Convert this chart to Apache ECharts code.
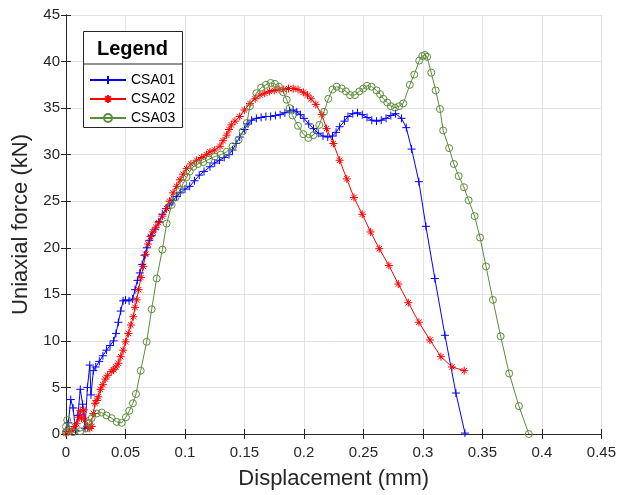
<!DOCTYPE html>
<html>
<head>
<meta charset="utf-8">
<script src="https://cdn.jsdelivr.net/npm/echarts@6/dist/echarts.min.js"></script>
<style>html,body{margin:0;padding:0;background:#fff}#c{width:619px;height:495px}</style>
</head>
<body>
<div id="c"></div>
<script>
var xTicks = [0, 0.05, 0.1, 0.15, 0.2, 0.25, 0.3, 0.35, 0.4, 0.45];
var yTicks = [0, 5, 10, 15, 20, 25, 30, 35, 40, 45];
var seriesNames = ['CSA01', 'CSA02', 'CSA03'];

var csa01 = [[0,0.3],[0.002,1.2],[0.004,3.7],[0.006,2.8],[0.008,0.4],[0.010,2.0],[0.012,4.8],[0.014,3.2],[0.016,0.6],[0.018,5.0],[0.020,7.4],[0.021,4.2],[0.023,6.8],[0.025,7.2],[0.028,7.8],[0.031,8.4],[0.034,9.0],[0.037,9.5],[0.040,10.0],[0.042,10.8],[0.044,12.0],[0.046,13.2],[0.048,14.3],[0.050,14.4],[0.053,14.3],[0.056,14.5],[0.058,15.5],[0.060,16.5],[0.062,17.3],[0.064,18.2],[0.066,19.2],[0.068,20.0],[0.070,20.8],[0.072,21.3],[0.075,22.0],[0.078,22.8],[0.081,23.6],[0.084,24.2],[0.087,24.6],[0.090,25.1],[0.093,25.5],[0.096,25.9],[0.100,26.3],[0.104,26.6],[0.108,27.2],[0.112,27.8],[0.116,28.2],[0.121,28.7],[0.125,29.1],[0.129,29.4],[0.133,29.7],[0.137,30.0],[0.140,30.5],[0.143,31.2],[0.146,31.9],[0.150,32.7],[0.153,33.3],[0.156,33.7],[0.160,33.9],[0.164,34.0],[0.168,34.1],[0.172,34.1],[0.176,34.2],[0.180,34.3],[0.184,34.5],[0.188,34.7],[0.191,34.8],[0.194,34.6],[0.197,34.3],[0.200,33.9],[0.204,33.3],[0.208,32.8],[0.212,32.3],[0.216,32.0],[0.220,31.9],[0.224,32.0],[0.227,32.4],[0.230,33.0],[0.234,33.6],[0.237,34.1],[0.241,34.4],[0.245,34.5],[0.249,34.3],[0.253,34.0],[0.257,33.7],[0.261,33.6],[0.265,33.7],[0.269,33.9],[0.273,34.2],[0.277,34.4],[0.282,33.9],[0.286,32.9],[0.2905,30.6],[0.2966,27.1],[0.3025,22.3],[0.310,16.7],[0.3185,10.6],[0.3277,4.4],[0.3353,0.1]];

var csa02 = [[0,0.1],[0.003,0.3],[0.005,0.4],[0.007,0.8],[0.009,1.1],[0.011,1.8],[0.012,2.5],[0.013,1.7],[0.015,2.6],[0.016,1.5],[0.018,0.8],[0.020,0.6],[0.0216,0.8],[0.023,2.2],[0.0244,3.3],[0.026,3.6],[0.0272,4.0],[0.029,4.8],[0.031,5.3],[0.033,5.9],[0.035,6.3],[0.038,6.7],[0.040,6.9],[0.042,7.2],[0.044,7.6],[0.046,8.3],[0.048,9.0],[0.050,9.9],[0.0524,10.8],[0.0545,11.7],[0.0566,12.6],[0.058,13.6],[0.0594,14.4],[0.061,15.5],[0.063,16.8],[0.065,18.0],[0.067,19.3],[0.069,20.4],[0.071,21.2],[0.073,21.7],[0.0755,22.2],[0.078,22.7],[0.081,23.4],[0.0846,24.2],[0.087,25.0],[0.090,25.9],[0.093,26.6],[0.0958,27.3],[0.0985,27.9],[0.1014,28.5],[0.105,29.0],[0.1098,29.4],[0.114,29.7],[0.118,30.0],[0.121,30.3],[0.125,30.5],[0.1294,30.9],[0.132,31.5],[0.135,32.1],[0.137,32.7],[0.139,33.2],[0.142,33.6],[0.146,34.1],[0.150,34.8],[0.1546,35.5],[0.159,36.0],[0.163,36.4],[0.167,36.6],[0.171,36.8],[0.175,36.9],[0.179,37.0],[0.183,37.0],[0.187,37.1],[0.191,37.1],[0.195,37.0],[0.1995,36.7],[0.203,36.4],[0.206,36.0],[0.210,35.4],[0.215,34.3],[0.219,32.8],[0.2247,31.2],[0.230,29.4],[0.236,27.4],[0.242,25.4],[0.249,23.6],[0.256,21.7],[0.2633,19.9],[0.2714,18.1],[0.2793,16.1],[0.2877,14.1],[0.2966,12.0],[0.3059,10.1],[0.3151,8.3],[0.3244,7.2],[0.3347,6.8]];

var csa03 = [[0,0.2],[0,0.8],[0.001,1.5],[0.002,0.5],[0.006,0.2],[0.012,0.3],[0.017,0.6],[0.0195,1.2],[0.0216,1.7],[0.0258,2.2],[0.030,2.3],[0.034,2.0],[0.0384,1.7],[0.0426,1.3],[0.0468,1.2],[0.0504,1.8],[0.0532,2.5],[0.0562,3.3],[0.0588,4.3],[0.0628,6.8],[0.0678,9.9],[0.072,13.4],[0.0762,16.7],[0.081,19.8],[0.0846,22.6],[0.0888,24.6],[0.092,25.4],[0.0958,26.2],[0.0985,26.9],[0.1014,27.6],[0.104,28.2],[0.107,28.7],[0.111,29.0],[0.1154,29.2],[0.120,29.5],[0.125,29.8],[0.130,30.0],[0.135,30.3],[0.140,30.9],[0.145,31.6],[0.1485,32.5],[0.152,33.4],[0.1546,35.2],[0.160,36.6],[0.164,37.2],[0.168,37.5],[0.172,37.7],[0.1756,37.6],[0.1790,37.3],[0.1826,36.7],[0.1855,35.9],[0.188,35.0],[0.1905,34.2],[0.195,33.1],[0.1995,32.2],[0.2037,31.8],[0.2079,32.1],[0.2129,33.2],[0.2168,34.6],[0.2205,36.0],[0.224,37.0],[0.2275,37.3],[0.2317,37.1],[0.2353,36.8],[0.2387,36.4],[0.2429,36.4],[0.2465,36.8],[0.2498,37.1],[0.253,37.4],[0.2569,37.3],[0.261,36.9],[0.264,36.5],[0.2667,36.0],[0.270,35.6],[0.273,35.2],[0.2765,35.05],[0.280,35.2],[0.2834,35.5],[0.289,37.5],[0.2927,38.6],[0.2969,40.1],[0.2995,40.6],[0.3017,40.7],[0.3035,40.5],[0.307,38.8],[0.3107,36.9],[0.3143,34.9],[0.317,32.6],[0.322,30.7],[0.326,29.0],[0.330,27.7],[0.3345,26.5],[0.3384,25.1],[0.3434,23.4],[0.348,21.1],[0.353,18.0],[0.3588,14.4],[0.3653,10.5],[0.3725,6.5],[0.3807,3.0],[0.389,0]];

var FONT = 'Liberation Sans, Arial, Helvetica, sans-serif';
var AX = '#262626';
var PLUS = 'path://M5,0L5,10M0,5L10,5';
var STAR = 'path://M5,0L5,10M0,5L10,5M1.6,1.6L8.4,8.4M1.6,8.4L8.4,1.6';

function mk(name, data, color, symbol, size) {
  return {
    name: name, type: 'line', data: data, xAxisIndex: 0, yAxisIndex: 0,
    symbol: symbol, symbolSize: size, showSymbol: true, showAllSymbol: true,
    animation: false, clip: true,
    lineStyle: { color: color, width: 1 },
    itemStyle: { color: symbol === 'circle' ? 'rgba(0,0,0,0)' : color, borderColor: color, borderWidth: 1 },
    emphasis: { disabled: true }
  };
}

var chart = echarts.init(document.getElementById('c'), null, { renderer: 'canvas' });
var baseAxis = {
  axisLine: { show: true, lineStyle: { color: AX, width: 1 } },
  axisTick: { show: true, inside: true, length: 5, lineStyle: { color: AX } },
  splitLine: { show: false },
  axisLabel: { show: false }
};
chart.setOption({
  animation: false,
  backgroundColor: '#fff',
  textStyle: { fontFamily: FONT },
  grid: { left: 66, right: 17, top: 15, bottom: 61, containLabel: false },
  xAxis: [
    {
      type: 'value', min: xTicks[0], max: xTicks[xTicks.length - 1], interval: 0.05, position: 'bottom',
      name: 'Displacement (mm)', nameLocation: 'middle', nameGap: 34,
      nameTextStyle: { fontSize: 22, color: AX, fontFamily: FONT },
      axisLine: { show: true, onZero: false, lineStyle: { color: AX, width: 1 } },
      axisTick: { show: true, inside: true, length: 5, lineStyle: { color: AX } },
      axisLabel: { color: AX, fontSize: 15, fontFamily: FONT, margin: 11,
        formatter: function (v) { return String(+v.toFixed(2)); } },
      splitLine: { show: true, lineStyle: { color: '#e3e3e3', width: 1 } }
    },
    Object.assign({ type: 'value', min: 0, max: 0.45, interval: 0.05, position: 'top' }, baseAxis)
  ],
  yAxis: [
    {
      type: 'value', min: yTicks[0], max: yTicks[yTicks.length - 1], interval: 5, position: 'left',
      name: 'Uniaxial force (kN)', nameLocation: 'middle', nameGap: 31,
      nameTextStyle: { fontSize: 22, color: AX, fontFamily: FONT },
      axisLine: { show: true, onZero: false, lineStyle: { color: AX, width: 1 } },
      axisTick: { show: true, inside: true, length: 5, lineStyle: { color: AX } },
      axisLabel: { color: AX, fontSize: 15, fontFamily: FONT, margin: 6 },
      splitLine: { show: true, lineStyle: { color: '#e3e3e3', width: 1 } }
    },
    Object.assign({ type: 'value', min: 0, max: 45, interval: 5, position: 'right' }, baseAxis)
  ],
  legend: {
    show: true, orient: 'vertical', left: 89, top: 73, padding: 0,
    itemWidth: 36, itemHeight: 10, itemGap: 5,
    data: seriesNames,
    textStyle: { fontSize: 14, color: '#000', fontFamily: FONT, padding: [0, 0, 0, 0] },
    z: 10
  },
  graphic: [
    { type: 'rect', left: 83, top: 31, z: 5, shape: { width: 99, height: 96 },
      style: { fill: '#fff', stroke: AX, lineWidth: 1 } },
    { type: 'line', z: 6, shape: { x1: 83, y1: 64, x2: 182, y2: 64 }, style: { stroke: AX, lineWidth: 1 } },
    { type: 'text', z: 6, x: 132.5, y: 49, style: { text: 'Legend', font: 'bold 20px ' + FONT, fill: '#000', textAlign: 'center', textVerticalAlign: 'middle' } }
  ],
  series: [
    mk(seriesNames[0], csa01, '#0000ff', PLUS, 8),
    mk(seriesNames[1], csa02, '#ff0000', STAR, 8),
    mk(seriesNames[2], csa03, '#5b8c3a', 'circle', 7)
  ]
});
</script>
</body>
</html>
